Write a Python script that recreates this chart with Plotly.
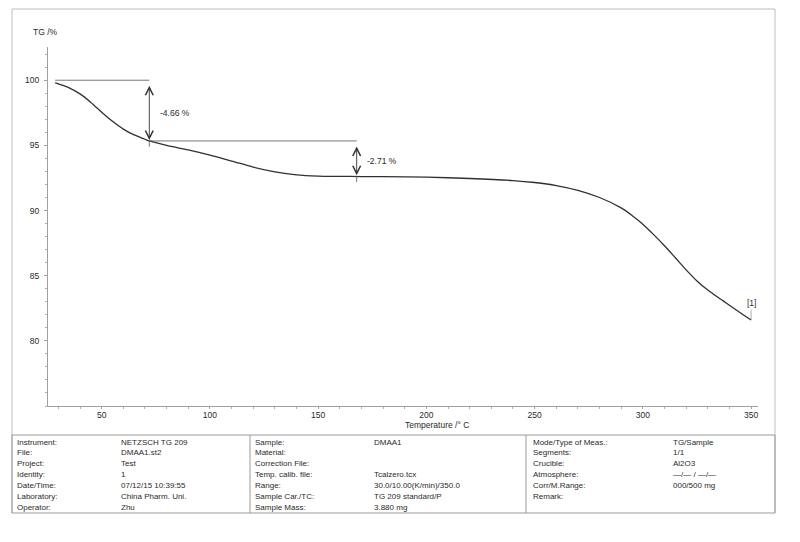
import plotly.graph_objects as go

# ---- data ----
temperature = [28.5, 30, 35, 40, 45, 50, 55, 60, 65, 70, 72, 80, 90, 100, 110, 120, 130,
               140, 150, 160, 170, 180, 200, 220, 240, 250, 260, 270, 280, 290, 295,
               300, 305, 310, 315, 320, 325, 330, 335, 340, 345, 350]
tg = [99.8, 99.72, 99.42, 98.95, 98.3, 97.55, 96.85, 96.25, 95.8, 95.47, 95.34, 95.0, 94.65,
      94.25, 93.8, 93.33, 92.97, 92.73, 92.64, 92.62, 92.61, 92.6, 92.56, 92.46, 92.3,
      92.15, 91.92, 91.55, 91.0, 90.2, 89.62, 88.95, 88.15, 87.3, 86.38, 85.45, 84.6,
      83.9, 83.3, 82.73, 82.16, 81.6]

step_temps = [72.0, 167.8]
step_levels = [100.0, 95.34, 92.63]
step_labels = ["-4.66 %", "-2.71 %"]
curve_label = "[1]"

x_ticks = [50, 100, 150, 200, 250, 300, 350]
y_ticks = [80, 85, 90, 95, 100]

info_labels_1 = ["Instrument:", "File:", "Project:", "Identity:", "Date/Time:", "Laboratory:", "Operator:"]
info_values_1 = ["NETZSCH TG 209", "DMAA1.st2", "Test", "1", "07/12/15 10:39:55", "China Pharm. Uni.", "Zhu"]
info_labels_2 = ["Sample:", "Material:", "Correction File:", "Temp. calib. file:", "Range:", "Sample Car./TC:", "Sample Mass:"]
info_values_2 = ["DMAA1", "", "", "Tcalzero.tcx", "30.0/10.00(K/min)/350.0", "TG 209 standard/P", "3.880 mg"]
info_labels_3 = ["Mode/Type of Meas.:", "Segments:", "Crucible:", "Atmosphere:", "Corr/M.Range:", "Remark:", ""]
info_values_3 = ["TG/Sample", "1/1", "Al2O3", "\u2014/\u2014 / \u2014/\u2014", "000/500 mg", "", ""]

# ---- layout geometry (pixels) ----
W, H = 800, 542
L, R, T, B = 48, 758, 47, 406
FONT = "Liberation Sans, Arial, sans-serif"
TXT = "#2a2a2a"


def px(xp):
    return (xp - L) / (R - L)


def py(yp):
    return (B - yp) / (B - T)


fig = go.Figure()
fig.add_trace(go.Scatter(x=temperature, y=tg, mode="lines",
                         line=dict(color="#303030", width=1.3, shape="spline", smoothing=0.8),
                         showlegend=False, hoverinfo="skip"))

# horizontal reference lines of the steps
seg_x = [temperature[0], step_temps[0], None, step_temps[0], step_temps[1]]
seg_y = [step_levels[0], step_levels[0], None, step_levels[1], step_levels[1]]
fig.add_trace(go.Scatter(x=seg_x, y=seg_y, mode="lines",
                         line=dict(color="#555555", width=0.8),
                         showlegend=False, hoverinfo="skip"))
# vertical markers extending below the curve
vx, vy = [], []
for i, t in enumerate(step_temps):
    vx += [t, t, None]
    vy += [step_levels[i + 1], step_levels[i + 1] - 0.45, None]
fig.add_trace(go.Scatter(x=vx, y=vy, mode="lines", line=dict(color="#555555", width=0.8),
                         showlegend=False, hoverinfo="skip"))

annotations = []
for i, t in enumerate(step_temps):
    top, bot = step_levels[i], step_levels[i + 1]
    annotations.append(dict(x=t, y=bot, ax=t, ay=top, xref="x", yref="y", axref="x", ayref="y",
                            text="", showarrow=True, arrowside="end+start",
                            arrowhead=5, startarrowhead=5, arrowsize=1.7, startarrowsize=1.7,
                            arrowwidth=0.9, arrowcolor="#333333", standoff=1, startstandoff=4))
    annotations.append(dict(x=t + 4.0, y=(top + bot) / 2 - 0.2, xref="x", yref="y",
                            text=step_labels[i], showarrow=False, xanchor="left", yanchor="middle",
                            font=dict(family=FONT, size=8.5, color=TXT)))

annotations.append(dict(x=temperature[-1], y=tg[-1], xref="x", yref="y", text=curve_label,
                        showarrow=True, ax=0, ay=-10, arrowhead=0, arrowwidth=0.6,
                        arrowcolor="#777777", yanchor="bottom",
                        font=dict(family=FONT, size=8.5, color=TXT)))

# axis titles
annotations.append(dict(x=px(31), y=py(32), xref="paper", yref="paper", text="TG /%",
                        showarrow=False, xanchor="left", yanchor="middle",
                        font=dict(family=FONT, size=8.5, color=TXT)))
annotations.append(dict(x=px(437), y=py(424.5), xref="paper", yref="paper",
                        text="Temperature /\u00b0 C", showarrow=False,
                        xanchor="center", yanchor="middle",
                        font=dict(family=FONT, size=8.5, color=TXT)))

# info table text
cols = [(14.5, 119, info_labels_1, info_values_1),
        (252.5, 372, info_labels_2, info_values_2),
        (531, 671, info_labels_3, info_values_3)]
for lx, vxp, labs, vals in cols:
    for r, (lab, val) in enumerate(zip(labs, vals)):
        yy = 442 + 10.95 * r
        if lab:
            annotations.append(dict(x=px(lx), y=py(yy), xref="paper", yref="paper", text=lab,
                                    showarrow=False, xanchor="left", yanchor="middle",
                                    font=dict(family=FONT, size=8, color=TXT)))
        if val:
            annotations.append(dict(x=px(vxp), y=py(yy), xref="paper", yref="paper", text=val,
                                    showarrow=False, xanchor="left", yanchor="middle",
                                    font=dict(family=FONT, size=8, color=TXT)))

shapes = []
frame_col = "#bdbdbd"
table_col = "#9a9a9a"
# outer frame
shapes.append(dict(type="line", xref="paper", yref="paper", x0=px(12), x1=px(775), y0=py(9), y1=py(9),
                   line=dict(color=frame_col, width=1)))
shapes.append(dict(type="line", xref="paper", yref="paper", x0=px(12), x1=px(12), y0=py(9), y1=py(513),
                   line=dict(color=frame_col, width=1)))
shapes.append(dict(type="line", xref="paper", yref="paper", x0=px(775), x1=px(775), y0=py(9), y1=py(513),
                   line=dict(color=frame_col, width=1)))
# table box
shapes.append(dict(type="rect", xref="paper", yref="paper", x0=px(12), x1=px(775), y0=py(435), y1=py(513),
                   line=dict(color=table_col, width=1)))
for sx in (250, 526):
    shapes.append(dict(type="line", xref="paper", yref="paper", x0=px(sx), x1=px(sx), y0=py(435), y1=py(513),
                       line=dict(color=table_col, width=1)))

fig.update_layout(
    width=W, height=H,
    margin=dict(l=L, r=W - R, t=T, b=H - B, pad=0),
    paper_bgcolor="white", plot_bgcolor="white",
    showlegend=False,
    annotations=annotations, shapes=shapes,
    font=dict(family=FONT, size=8.5, color=TXT),
)
fig.update_xaxes(range=[25.2, 353.2], tickvals=x_ticks, showgrid=False, zeroline=False,
                 showline=True, linecolor="#a0a0a0", linewidth=1,
                 ticks="outside", ticklen=2, tickcolor="#a0a0a0", tickwidth=1,
                 minor=dict(dtick=10, ticks="outside", ticklen=2, tickcolor="#b0b0b0", showgrid=False),
                 tickfont=dict(family=FONT, size=8.5, color=TXT), ticklabelstandoff=-1)
fig.update_yaxes(range=[75.0, 102.55], tickvals=y_ticks, showgrid=False, zeroline=False,
                 showline=True, linecolor="#a0a0a0", linewidth=1,
                 ticks="outside", ticklen=3, tickcolor="#a0a0a0", tickwidth=1,
                 minor=dict(dtick=1, ticks="outside", ticklen=2, tickcolor="#b0b0b0", showgrid=False),
                 tickfont=dict(family=FONT, size=8.5, color=TXT), ticklabelstandoff=3)

fig.write_html("out.html", config={"displayModeBar": False},
               post_script="document.body.style.margin='0px';document.body.style.padding='0px';")
